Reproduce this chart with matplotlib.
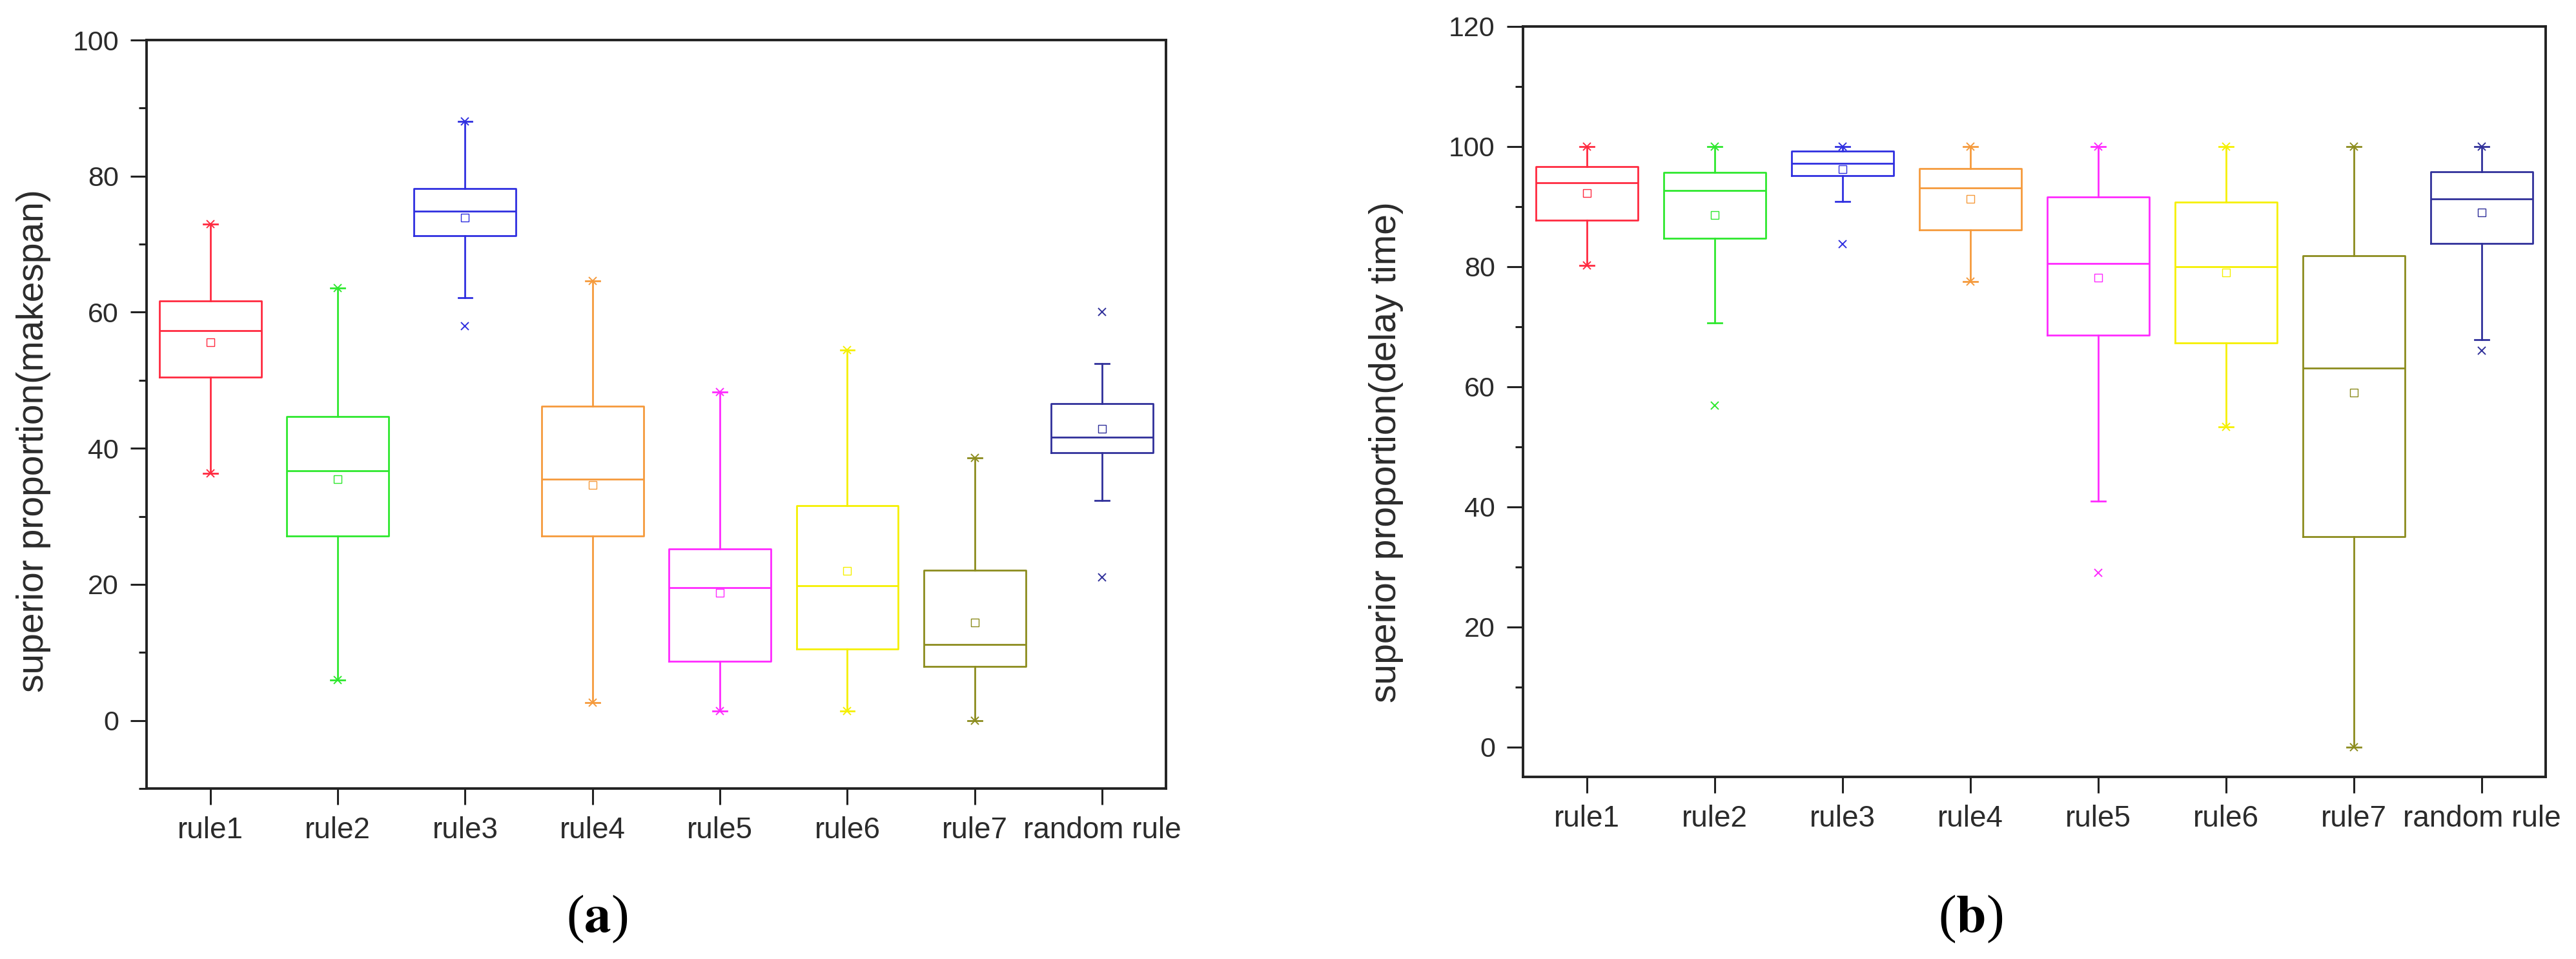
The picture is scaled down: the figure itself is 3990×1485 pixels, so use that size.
import matplotlib
matplotlib.use("Agg")
import matplotlib.pyplot as plt
from matplotlib.ticker import MultipleLocator

plt.rcParams["font.family"] = ["Liberation Sans", "DejaVu Sans"]
plt.rcParams["mathtext.fontset"] = "stix"

categories = ["rule1", "rule2", "rule3", "rule4", "rule5", "rule6", "rule7", "random rule"]
colors = ["#ff2a40", "#2ee82e", "#2f2fe0", "#f59a3c", "#ff2aff", "#f5f000", "#8c8c1e", "#30309a"]

# (a) superior proportion (makespan)
mk_whislo = [36.3, 5.9, 62.1, 2.6, 1.4, 1.4, 0.0, 32.3]
mk_q1 = [50.5, 27.1, 71.2, 27.1, 8.7, 10.5, 7.9, 39.4]
mk_med = [57.3, 36.7, 74.9, 35.5, 19.5, 19.8, 11.2, 41.6]
mk_q3 = [61.7, 44.7, 78.2, 46.2, 25.2, 31.6, 22.1, 46.6]
mk_whishi = [73.0, 63.6, 88.0, 64.6, 48.3, 54.4, 38.6, 52.5]
mk_mean = [55.6, 35.5, 73.9, 34.6, 18.8, 22.0, 14.4, 42.9]
mk_marks = [[73.0, 36.3], [63.6, 5.9], [88.0, 58.0], [64.6, 2.6],
            [48.3, 1.4], [54.4, 1.4], [38.6, 0.0], [60.0, 21.0]]

# (b) superior proportion (delay time)
dt_whislo = [80.2, 70.6, 90.9, 77.5, 40.9, 53.3, 0.0, 67.8]
dt_q1 = [87.7, 84.7, 95.2, 86.1, 68.6, 67.3, 35.0, 83.9]
dt_med = [94.0, 92.7, 97.2, 93.1, 80.5, 80.0, 63.1, 91.3]
dt_q3 = [96.7, 95.7, 99.2, 96.3, 91.6, 90.7, 81.8, 95.8]
dt_whishi = [100.0, 100.0, 100.0, 100.0, 100.0, 100.0, 100.0, 100.0]
dt_mean = [92.2, 88.6, 96.2, 91.3, 78.2, 79.0, 59.0, 89.0]
dt_marks = [[100.0, 80.2], [100.0, 56.8], [100.0, 83.8], [100.0, 77.5],
            [100.0, 29.0], [100.0, 53.3], [100.0, 0.0], [100.0, 66.0]]

TEXT = "#2b2b2b"
SPINE = "#222222"


def build_stats(whislo, q1, med, q3, whishi, mean, marks):
    stats = []
    for i in range(len(categories)):
        stats.append({
            "label": categories[i], "whislo": whislo[i], "q1": q1[i], "med": med[i],
            "q3": q3[i], "whishi": whishi[i], "mean": mean[i], "fliers": marks[i],
        })
    return stats


def draw_panel(ax, stats, ylim, yticks, ylabel):
    art = ax.bxp(stats, positions=range(1, len(stats) + 1), widths=0.8,
                 showmeans=True, showfliers=True, capwidths=0.11)
    for i, c in enumerate(colors):
        art["boxes"][i].set(color=c, linewidth=2.0)
        art["medians"][i].set(color=c, linewidth=2.0)
        for ln in art["whiskers"][2 * i:2 * i + 2] + art["caps"][2 * i:2 * i + 2]:
            ln.set(color=c, linewidth=2.0)
        art["fliers"][i].set(marker="x", markersize=8, markeredgewidth=1.4,
                             markeredgecolor=c, markerfacecolor="none", linestyle="none")
        art["means"][i].set(marker="s", markersize=8, markeredgewidth=1.0,
                            markeredgecolor=c, markerfacecolor="none", linestyle="none")

    ax.set_xlim(0.5, len(stats) + 0.5)
    ax.set_ylim(*ylim)
    ax.set_yticks(yticks)
    ax.yaxis.set_minor_locator(MultipleLocator(10))
    ax.set_xticks(range(1, len(stats) + 1))
    ax.set_xticklabels(categories)
    ax.tick_params(axis="both", which="major", direction="out", length=18, width=2.2,
                   color=SPINE, labelcolor=TEXT, pad=13)
    ax.tick_params(axis="x", labelsize=33)
    ax.tick_params(axis="y", labelsize=31)
    ax.tick_params(axis="y", which="minor", direction="out", length=9, width=2.2, color=SPINE)
    ax.tick_params(axis="x", which="minor", bottom=False)
    for sp in ax.spines.values():
        sp.set_color(SPINE)
        sp.set_linewidth(2.8)


fig = plt.figure(figsize=(39.9, 14.85), dpi=100)
fig.patch.set_facecolor("white")

ax_a = fig.add_axes([0.0569, 0.1778, 0.3957, 0.7804])
draw_panel(ax_a, build_stats(mk_whislo, mk_q1, mk_med, mk_q3, mk_whishi, mk_mean, mk_marks),
           (-10, 100), [0, 20, 40, 60, 80, 100], "superior proportion(makespan)")

ax_b = fig.add_axes([0.5912, 0.1899, 0.397, 0.7825])
draw_panel(ax_b, build_stats(dt_whislo, dt_q1, dt_med, dt_q3, dt_whishi, dt_mean, dt_marks),
           (-5, 120), [0, 20, 40, 60, 80, 100, 120], "superior proportion(delay time)")

fig.text(52 / 3990, 1 - 683 / 1485, "superior proportion(makespan)", rotation=90,
         ha="center", va="center", fontsize=41, color=TEXT)
fig.text(2147 / 3990, 1 - 700 / 1485, "superior proportion(delay time)", rotation=90,
         ha="center", va="center", fontsize=41, color=TEXT)

fig.text(925 / 3990, 1 - 1423 / 1485, r"($\mathbf{a}$)", ha="center", va="center",
         fontsize=60, family="Liberation Serif", color="black")
fig.text(3052 / 3990, 1 - 1423 / 1485, r"($\mathbf{b}$)", ha="center", va="center",
         fontsize=60, family="Liberation Serif", color="black")

fig.savefig("out.png", dpi=100, facecolor="white")
